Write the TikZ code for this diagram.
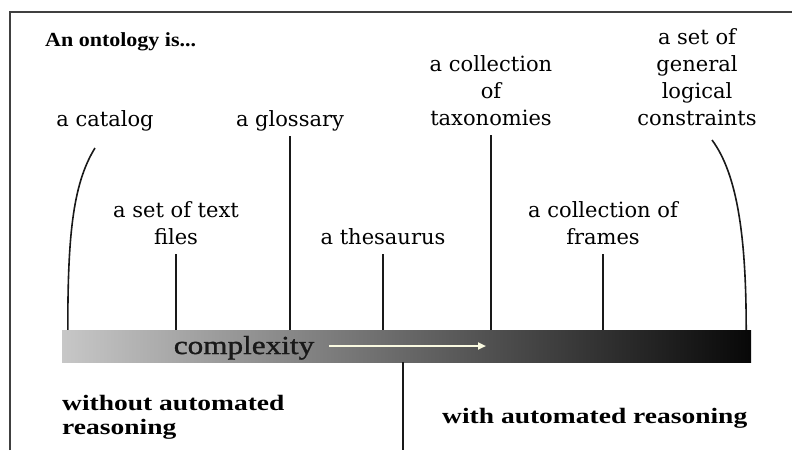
\documentclass[tikz,border=0pt]{standalone}
\usepackage{fontspec}
\setmainfont{DejaVu Serif}
\newfontfamily\heavyfont[FakeStretch=1.25]{Liberation Serif}
\newfontfamily\titlefont[FakeStretch=1.1]{Liberation Serif}
\newfontfamily\scalefont[FakeStretch=1.2,FakeBold=1.2]{Liberation Serif}
\usetikzlibrary{arrows.meta}
\definecolor{arrowwhite}{RGB}{250,250,225}
\tikzset{
  ontitem/.style={font=\fontsize{21}{27}\selectfont, align=center, anchor=south, inner sep=4pt, text depth=5pt},
  reasoning/.style={font=\heavyfont\bfseries\fontsize{22}{24}\selectfont, align=left, inner sep=0pt},
  connector/.style={line width=1.6pt, black!90},
  complexitybar/.style={minimum width=689pt, minimum height=32pt, inner sep=0pt, left color=black!22, middle color=black!55, right color=black!97},
  arrowline/.style={line width=2pt, arrowwhite, -{Triangle[length=8pt,width=7pt]}}
}
\begin{document}
\begin{tikzpicture}[x=1pt,y=-1pt]
\useasboundingbox (0,0) rectangle (792,450);
\draw[black!75,line width=2.5pt] (10,450) -- (10,12) -- (792,12);
\node[font=\titlefont\bfseries\fontsize{20}{22}\selectfont, anchor=base west, inner sep=0pt] (title) at (45,46) {An ontology is...};

\node[complexitybar] (bar) at (406.5,346) {};
\node[font=\scalefont\fontsize{26}{28}\selectfont, text=black!90, anchor=base, inner sep=0pt] (complexity) at (244,354) {complexity};
\coordinate (arrowtail) at (329,346);
\coordinate (arrowtip) at (486,346);
\draw[arrowline] (arrowtail) -- (arrowtip);

\node[ontitem] (catalog) at (105,136) {a catalog};
\node[ontitem] (glossary) at (290,136) {a glossary};
\node[ontitem] (taxonomies) at (491,135) {a collection\\of\\taxonomies};
\node[ontitem] (constraints) at (697,135) {a set of\\general\\logical\\constraints};
\node[ontitem] (textfiles) at (176,254) {a set of text\\files};
\node[ontitem] (thesaurus) at (383,254) {a thesaurus};
\node[ontitem] (frames) at (603,254) {a collection of\\frames};

\draw[connector] ([xshift=-10pt,yshift=-12pt]catalog.south) .. controls +(-23,37) and +(0,-90) .. ([xshift=6pt]bar.north west);
\draw[connector] ([xshift=15pt,yshift=-5pt]constraints.south) .. controls +(26,35) and +(0,-90) .. ([xshift=-5pt]bar.north east);
\draw[connector] (glossary.south) -- (glossary.south |- bar.north);
\draw[connector] (taxonomies.south) -- (taxonomies.south |- bar.north);
\draw[connector] (textfiles.south) -- (textfiles.south |- bar.north);
\draw[connector] (thesaurus.south) -- (thesaurus.south |- bar.north);
\draw[connector] (frames.south) -- (frames.south |- bar.north);

\coordinate (floor) at (403,450);
\draw[connector] (bar.south -| floor) -- (floor);
\node[reasoning, anchor=north west] (without) at (62,395) {without automated\\reasoning};
\node[reasoning, anchor=base west] (with) at (442,423) {with automated reasoning};
\end{tikzpicture}
\end{document}
